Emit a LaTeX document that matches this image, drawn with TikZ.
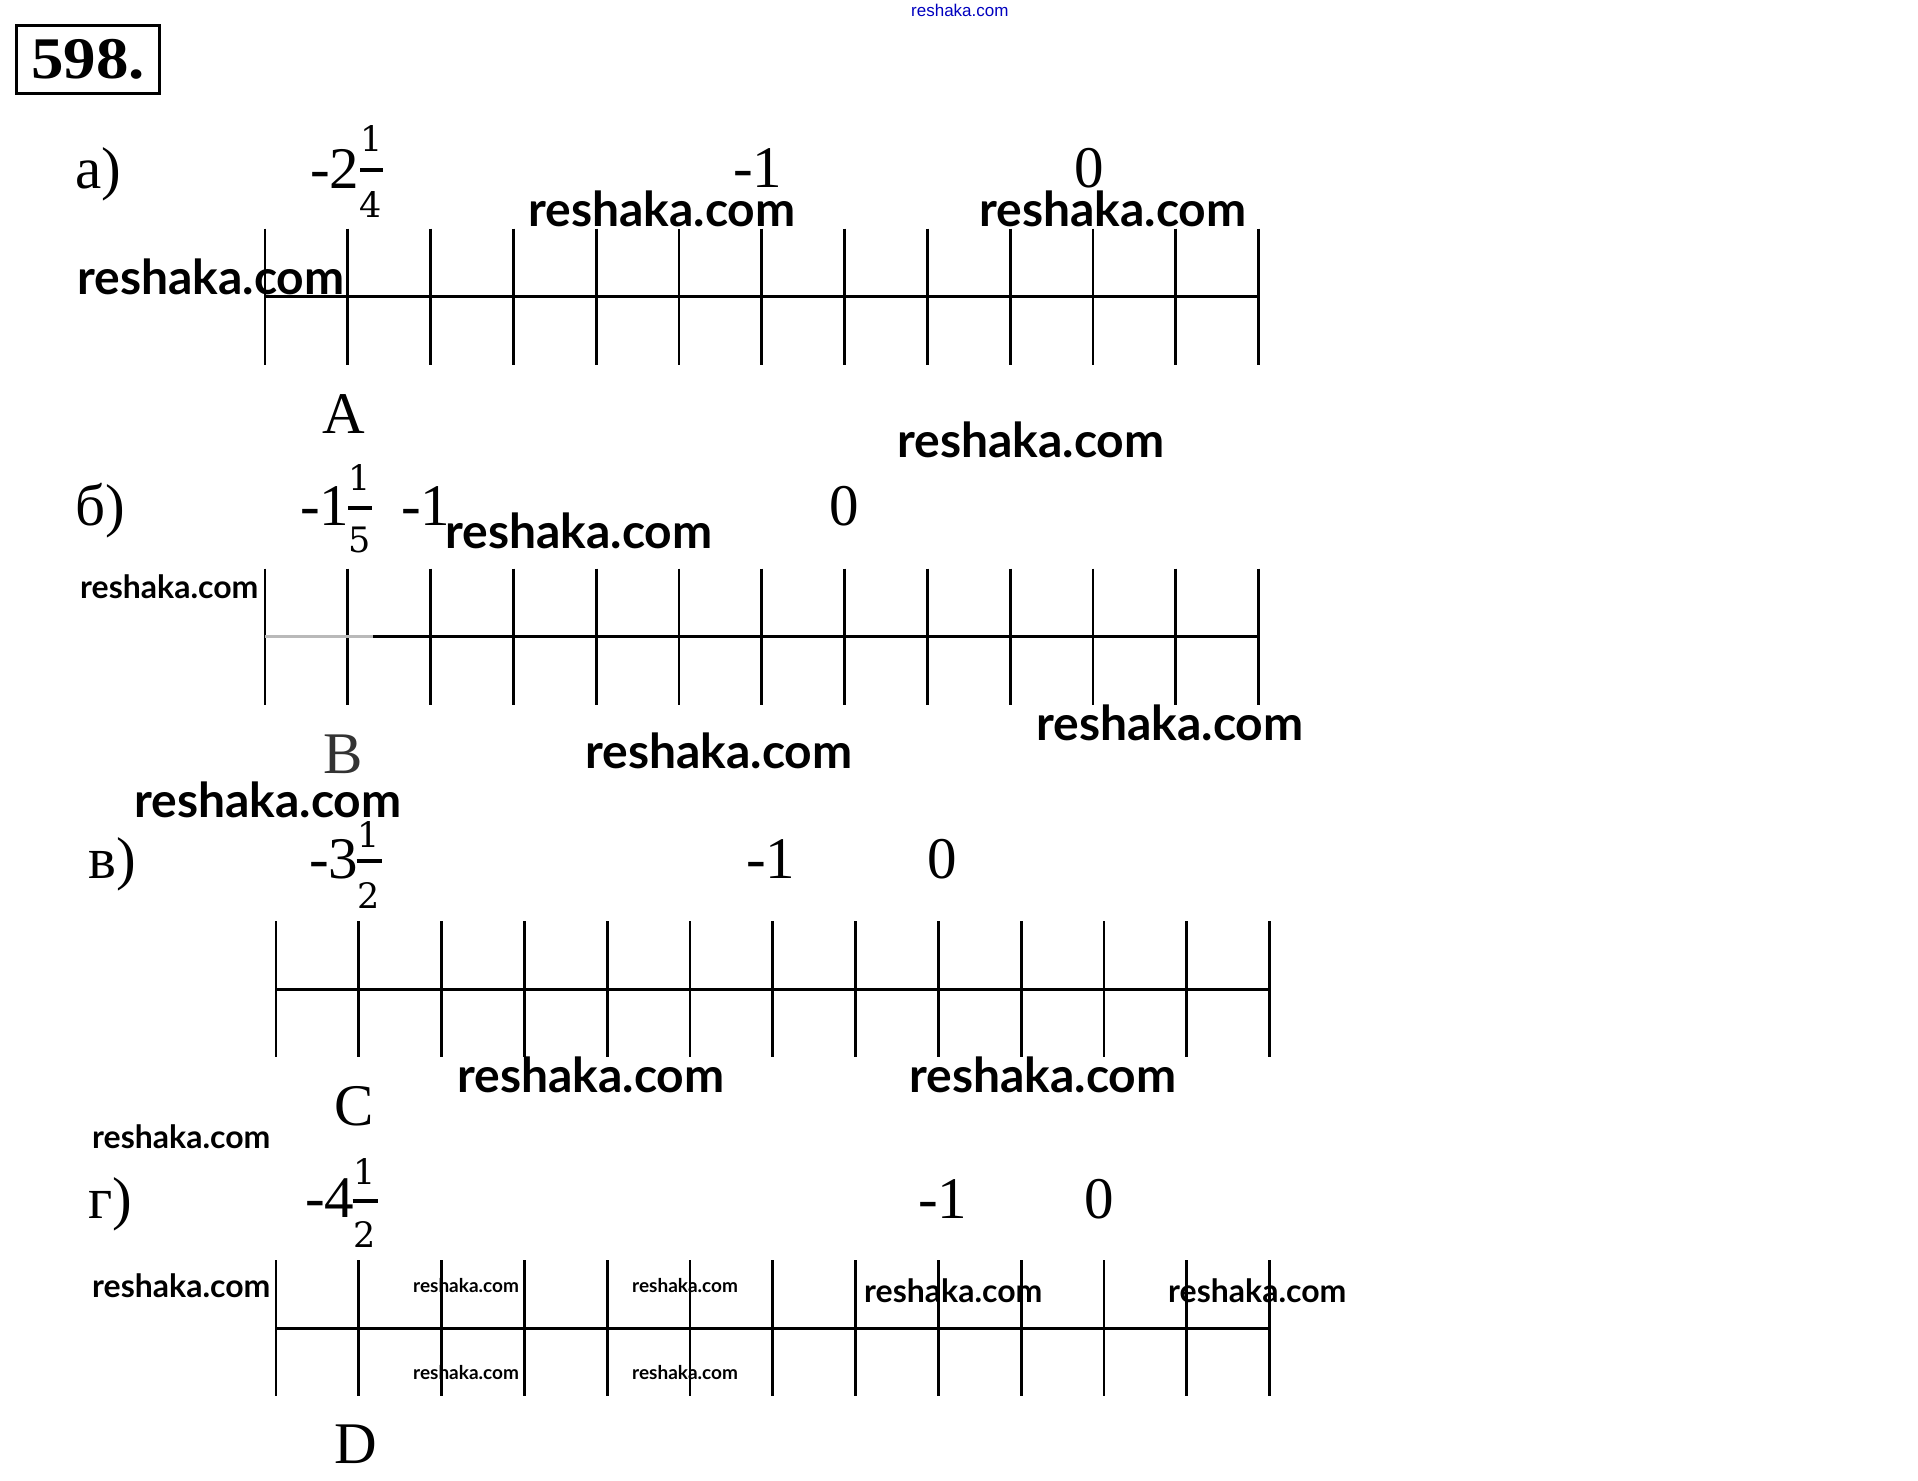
\documentclass[tikz,border=0pt]{standalone}
\usepackage{fontspec}
\usepackage{graphicx}
\setmainfont{Liberation Serif}
\newfontfamily\wmfont{Lato}
\newfontfamily\fracfont{DejaVu Serif}
\newfontfamily\sitefont{Liberation Sans}
\tikzset{
  num/.style={font={\fontsize{59}{70}\selectfont}, inner sep=0pt, anchor=base west},
  pt/.style={font={\fontsize{59}{70}\selectfont}, inner sep=0pt, anchor=base},
  frd/.style={font={\fracfont\fontsize{35}{42}\selectfont}, inner sep=0pt},
  fracbar/.style={line width=3.3pt},
  tick/.style={line width=2.8pt},
  axis/.style={line width=3.3pt},
  wm/.style={font={\wmfont\bfseries\fontsize{48}{58}\selectfont}, inner sep=0pt, anchor=base west},
  wmmid/.style={wm, font={\wmfont\bfseries\fontsize{32}{40}\selectfont}},
  wmsmall/.style={wm, font={\wmfont\bfseries\fontsize{19}{24}\selectfont}},
}
\begin{document}
\begin{tikzpicture}[x=1pt,y=-1pt]
    \useasboundingbox[fill=white] (0,0) rectangle (1918,1480);
    %% Watermarks
    \node[font={\sitefont\fontsize{17}{20}\selectfont}, text=blue!75!black, inner sep=0pt, anchor=base west] (site) at (911,16.5) {reshaka.com};
    \node[wm] (wa1) at (528,226.5) {reshaka.com};
    \node[wm] (wa2) at (979,226.5) {reshaka.com};
    \node[wm] (wa3) at (77,294) {reshaka.com};
    \node[wm] (wb1) at (897,457) {reshaka.com};
    \node[wm] (wb2) at (445,548) {reshaka.com};
    \node[wmmid] (wb3) at (80,598) {reshaka.com};
    \node[wm] (wb4) at (1036,740) {reshaka.com};
    \node[wm] (wb5) at (585,768) {reshaka.com};
    \node[wm] (wb6) at (134,817) {reshaka.com};
    \node[wm] (wc1) at (457,1092) {reshaka.com};
    \node[wm] (wc2) at (909,1092) {reshaka.com};
    \node[wmmid] (wc3) at (92,1148) {reshaka.com};
    \node[wmmid] (wd1) at (92,1297) {reshaka.com};
    \node[wmmid] (wd2) at (864,1302) {reshaka.com};
    \node[wmmid] (wd3) at (1168,1302) {reshaka.com};
    \node[wmsmall] (wd4) at (413,1292) {reshaka.com};
    \node[wmsmall] (wd5) at (632,1292) {reshaka.com};
    \node[wmsmall] (wd6) at (413,1379) {reshaka.com};
    \node[wmsmall] (wd7) at (632,1379) {reshaka.com};
    %% Task number
    \node[draw, line width=3pt, minimum width=143, minimum height=67, inner sep=0pt,
          font={\bfseries\fontsize{59}{70}\selectfont}] (task) at (88.3,59.5) {\scalebox{1.1}[1]{598.}};
    %% Axes
    \foreach \i in {0,...,12} {
        \coordinate (a\i) at (265+82.8*\i,296.7);
        \coordinate (b\i) at (265+82.8*\i,636.7);
        \coordinate (c\i) at (276+82.8*\i,989.3);
        \coordinate (d\i) at (276+82.8*\i,1328.3);
        \draw[tick] (a\i) ++(0,-68) -- ++(0,136);
        \draw[tick] (b\i) ++(0,-68) -- ++(0,136);
        \draw[tick] (c\i) ++(0,-68) -- ++(0,136);
        \draw[tick] (d\i) ++(0,-68) -- ++(0,136);
    }
    \coordinate (bfade) at (373,636.7);
    \draw[axis] (a0) -- (a12);
    \draw[axis, gray!55] (b0) -- (bfade);
    \draw[axis] (bfade) -- (b12);
    \draw[axis] (c0) -- (c12);
    \draw[axis] (d0) -- (d12);
    %% a)
    \node[num] (la) at (75,188) {а)};
    \node[num] (ma) at (310,188) {-2};
    \draw[fracbar] (360,170) -- (383.3,170);
    \node[frd] (pa) at (371.5,139) {1};
    \node[frd] (qa) at (371,205) {4};
    \node[num] (na) at (733,187) {-1};
    \node[num] (za) at (1074,187) {0};
    \node[pt] (A) at (344,433) {A};
    %% b)
    \node[num] (lb) at (75,525) {б)};
    \node[num] (mb) at (300,525) {-1};
    \draw[fracbar] (348,508) -- (371.7,508);
    \node[frd] (pb) at (360,478) {1};
    \node[frd] (qb) at (360,540) {5};
    \node[num] (nb) at (401,525) {-1};
    \node[num] (zb) at (829,525) {0};
    \node[pt, text=black!80] (B) at (343,773) {B};
    %% v)
    \node[num] (lc) at (88,878) {в)};
    \node[num] (mc) at (309,878) {-3};
    \draw[fracbar] (356.7,861) -- (381.7,861);
    \node[frd] (pc) at (369,834) {1};
    \node[frd] (qc) at (369,895) {2};
    \node[num] (nc) at (746,878) {-1};
    \node[num] (zc) at (927,878) {0};
    \node[pt] (C) at (354,1125) {C};
    %% g)
    \node[num] (ld) at (88,1218) {г)};
    \node[num] (md) at (305,1217) {-4};
    \draw[fracbar] (352.7,1201) -- (378.3,1201);
    \node[frd] (pd) at (365,1171) {1};
    \node[frd] (qd) at (365,1234) {2};
    \node[num] (nd) at (918,1218) {-1};
    \node[num] (zd) at (1084,1218) {0};
    \node[pt] (D) at (356,1463) {D};
\end{tikzpicture}
\end{document}
